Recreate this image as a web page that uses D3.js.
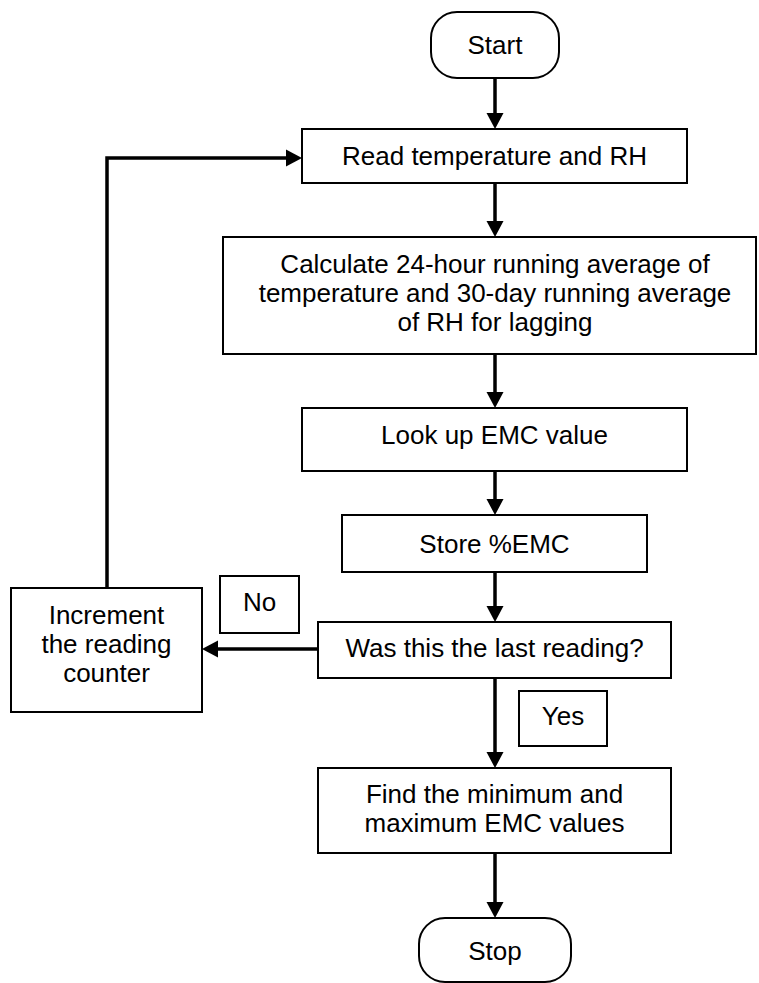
<!DOCTYPE html>
<html>
<head>
<meta charset="utf-8">
<script src="https://cdn.jsdelivr.net/npm/d3@7"></script>
<style>
  body { margin: 0; background: #fff; }
  svg text { font-family: "Liberation Sans", Arial, sans-serif; fill: #000; }
</style>
</head>
<body>
<div id="chart"></div>
<script>
// Flowchart content
var nodeIds = ["start", "read", "calc", "lookup", "store", "last", "incr", "find", "stop", "no", "yes"];
var nodeLines = [
  ["Start"],
  ["Read temperature and RH"],
  ["Calculate 24-hour running average of", "temperature and 30-day running average", "of RH for lagging"],
  ["Look up EMC value"],
  ["Store %EMC"],
  ["Was this the last reading?"],
  ["Increment", "the reading", "counter"],
  ["Find the minimum and", "maximum EMC values"],
  ["Stop"],
  ["No"],
  ["Yes"]
];
var nodeShapes = ["terminal", "process", "process", "process", "process", "process", "process", "process", "terminal", "label", "label"];
var links = [
  ["start", "read"], ["read", "calc"], ["calc", "lookup"], ["lookup", "store"],
  ["store", "last"], ["last", "find"], ["find", "stop"], ["last", "incr"], ["incr", "read"]
];

// Layout: box x0, y0, x1, y1 and baseline of first text line
var layout = {
  start:  [431, 12, 559, 78, 54],
  read:   [302, 129, 687, 183, 165],
  calc:   [223, 237, 756, 354, 273],
  lookup: [302, 408, 687, 471, 444],
  store:  [342, 515, 647, 572, 553],
  last:   [318, 622, 671, 678, 657],
  incr:   [11, 588, 202, 712, 624],
  find:   [318, 768, 671, 853, 803],
  stop:   [419, 918, 571, 982, 960],
  no:     [220, 576, 299, 633, 611],
  yes:    [519, 691, 607, 746, 725]
};

var width = 759, height = 983;
var fontSize = 26, lineGap = 29;
var colX = 495;

var svg = d3.select("#chart").append("svg")
  .attr("width", width)
  .attr("height", height);

var nodes = nodeIds.map(function (id, i) {
  var b = layout[id];
  return { id: id, lines: nodeLines[i], shape: nodeShapes[i], x0: b[0], y0: b[1], x1: b[2], y1: b[3], base: b[4] };
});
var byId = {};
nodes.forEach(function (n) { byId[n.id] = n; });

// Boxes
var g = svg.append("g");
g.selectAll("rect.box")
  .data(nodes)
  .enter()
  .append("rect")
  .attr("class", "box")
  .attr("x", d => d.x0)
  .attr("y", d => d.y0)
  .attr("width", d => d.x1 - d.x0)
  .attr("height", d => d.y1 - d.y0)
  .attr("rx", d => d.shape === "terminal" ? 26 : 0)
  .attr("ry", d => d.shape === "terminal" ? 26 : 0)
  .attr("fill", "#fff")
  .attr("stroke", "#000")
  .attr("stroke-width", 2);

// Text
g.selectAll("text.lbl")
  .data(nodes)
  .enter()
  .append("text")
  .attr("class", "lbl")
  .attr("text-anchor", "middle")
  .attr("font-size", fontSize)
  .each(function (d) {
    var cx = (d.x0 + d.x1) / 2;
    if (d.id === "calc") cx = colX;
    d3.select(this).selectAll("tspan")
      .data(d.lines)
      .enter()
      .append("tspan")
      .attr("x", cx)
      .attr("y", (t, i) => d.base + i * lineGap)
      .text(t => t);
  });

// Arrows
function head(tip, dir) {
  var L = 16, W = 8.5;
  var dx = dir[0], dy = dir[1];
  var bx = tip[0] - dx * L, by = tip[1] - dy * L;
  return [[tip[0], tip[1]], [bx - dy * W, by + dx * W], [bx + dy * W, by - dx * W]];
}

var loopX = 107, loopY = 158, noY = 649;
var arrows = links.map(function (l) {
  var a = byId[l[0]], b = byId[l[1]];
  if (l[0] === "last" && l[1] === "incr") {
    return { pts: [[a.x0, noY], [b.x1, noY]], dir: [-1, 0] };
  }
  if (l[0] === "incr" && l[1] === "read") {
    return { pts: [[loopX, a.y0], [loopX, loopY], [b.x0, loopY]], dir: [1, 0] };
  }
  return { pts: [[colX, a.y1], [colX, b.y0]], dir: [0, 1] };
});

var ag = svg.append("g");
ag.selectAll("path.shaft")
  .data(arrows)
  .enter()
  .append("path")
  .attr("class", "shaft")
  .attr("d", d => {
    var p = d.pts.slice();
    var last = p[p.length - 1];
    p[p.length - 1] = [last[0] - d.dir[0] * 10, last[1] - d.dir[1] * 10];
    return d3.line()(p);
  })
  .attr("fill", "none")
  .attr("stroke", "#000")
  .attr("stroke-width", 3.5);

ag.selectAll("path.head")
  .data(arrows)
  .enter()
  .append("path")
  .attr("class", "head")
  .attr("d", d => d3.line()(head(d.pts[d.pts.length - 1], d.dir)) + "Z")
  .attr("fill", "#000");
</script>
</body>
</html>
